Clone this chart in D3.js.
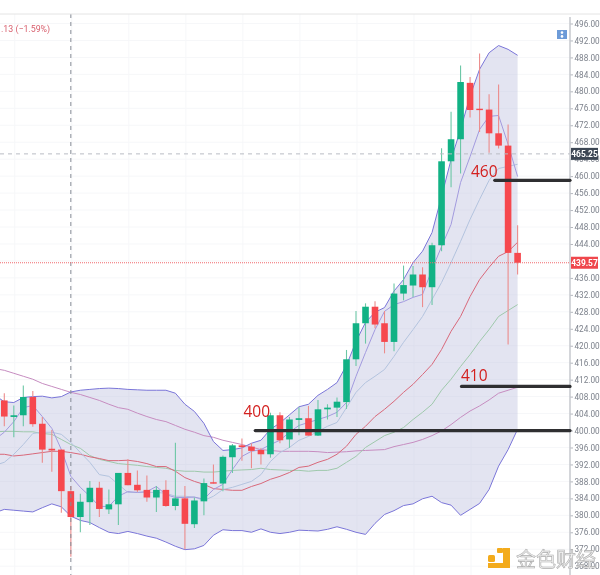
<!DOCTYPE html>
<html>
<head>
<meta charset="utf-8">
<script src="https://cdn.jsdelivr.net/npm/d3@7"></script>
<style>
  html, body { margin: 0; padding: 0; background: #fff; overflow: hidden; }
  svg { display: block; filter: blur(0.35px); }
</style>
</head>
<body>
<div id="chart"></div>
<script>
// candles, one per session, oldest first
const opens = [407.1,403.2,403.6,407.9,401.6,395.7,395.5,385.7,379.6,383.1,386.5,381.4,382.6,390.0,387.2,386.0,384.2,386.0,382.2,384.0,377.9,383.3,387.8,387.5,393.7,396.5,396.2,395.4,394.4,403.6,397.9,402.5,402.9,398.8,405.0,405.4,406.7,416.8,425.3,429.2,425.3,420.9,432.3,434.2,436.8,433.8,443.7,463.5,468.7,482.0,475.9,475.7,470.1,467.2,441.9];
const closes = [403.3,403.6,407.9,401.5,395.5,395.3,385.7,379.6,383.2,386.5,381.5,382.6,390.0,387.1,385.9,384.2,386.0,382.2,384.0,378.0,383.5,387.6,387.5,393.8,396.5,396.1,395.2,394.4,403.6,397.7,402.6,402.9,398.8,405.0,405.4,406.8,416.8,425.3,429.2,425.0,420.9,432.3,434.3,436.8,433.8,443.7,463.5,468.7,482.2,475.6,475.6,470.1,467.2,441.9,439.57];
const highs = [408.8,405.9,410.6,409.3,403.2,400.1,395.5,386.9,385.1,388.1,387.9,386.1,390.0,393.2,390.6,389.4,386.9,388.3,397.1,386.9,384.2,388.7,392.0,394.1,396.8,398.1,397.0,395.9,404.2,404.3,403.2,405.5,405.8,407.2,406.2,407.8,419.0,428.2,430.0,430.5,428.2,434.7,438.9,438.8,438.5,444.3,466.6,475.2,486.1,483.4,488.9,479.3,481.6,472.2,448.4];
const lows = [401.0,398.4,401.0,400.9,392.4,390.3,380.6,370.2,376.0,377.7,379.6,380.3,377.7,387.1,385.5,383.2,380.8,382.0,381.2,372.0,377.0,380.0,387.5,385.7,390.0,392.9,391.1,392.0,393.6,397.0,395.9,398.9,398.8,398.7,402.6,403.2,405.1,415.2,420.5,424.1,418.2,418.7,430.7,431.5,429.1,429.6,442.3,457.4,460.6,473.8,470.4,465.5,466.5,420.3,436.8];

// overlay lines start one session before the first visible candle
const bandUpper = [408.3,406.8,406.6,407.8,408.0,408.1,407.7,408.0,409.1,409.5,409.7,409.9,410.0,409.9,409.7,409.6,409.5,409.5,409.5,408.8,406.2,404.5,401.7,397.4,395.3,395.5,395.9,397.0,397.7,400.3,401.8,403.7,405.6,406.2,408.3,409.7,411.3,415.4,421.0,425.5,427.9,429.0,432.9,435.6,439.6,442.3,446.7,455.2,463.9,471.0,478.9,485.2,489.1,490.8,489.9,488.5];
const bandLower = [380.6,381.4,381.2,381.0,380.8,381.8,382.7,382.0,379.8,378.8,378.3,377.1,376.0,375.7,376.2,375.7,375.1,374.6,373.7,372.7,371.9,372.1,372.9,375.3,376.6,376.4,376.4,376.0,376.8,376.0,375.7,376.0,376.5,376.4,376.3,376.7,377.3,376.7,376.0,375.5,378.1,380.2,381.1,382.3,382.7,383.9,384.5,383.0,382.4,380.0,381.4,382.8,386.1,391.6,395.5,400.3];
const ma5 = [397.9,399.6,402.1,405.4,405.9,403.3,400.5,395.5,389.2,386.6,384.5,382.1,382.1,384.5,385.6,385.4,385.6,386.8,384.9,384.2,384.2,384.3,383.8,386.1,387.3,390.8,393.9,395.1,395.5,396.7,397.7,399.6,401.2,401.9,402.6,403.3,404.3,406.6,412.8,418.4,423.8,428.1,429.7,430.4,431.4,432.1,438.0,443.4,448.6,458.5,464.6,471.0,474.1,474.3,467.5,459.9];
const ma10 = [391.8,392.5,394.4,396.7,399.3,399.6,399.6,399.1,397.2,394.8,392.5,389.6,389.2,387.3,385.4,385.4,385.4,385.4,385.2,384.5,384.5,384.3,383.5,384.5,386.1,386.6,387.3,388.0,389.6,392.7,394.8,396.0,397.7,398.6,399.8,401.0,401.9,405.4,409.0,411.3,412.8,414.4,417.5,420.8,423.8,426.9,430.9,434.9,439.6,444.6,449.8,454.5,459.0,461.8,462.3,462.8];
const ma20 = [394.4,394.4,394.0,394.2,394.5,394.8,395.1,395.1,394.8,394.4,393.8,393.4,392.9,392.9,393.0,392.7,392.2,391.5,391.5,390.4,388.9,388.0,387.3,386.3,386.1,385.9,385.9,386.8,387.5,388.5,389.2,390.1,391.3,391.6,392.5,393.2,394.4,396.3,399.1,401.0,403.3,405.0,406.9,409.0,410.9,413.2,415.6,419.1,423.4,426.9,431.6,435.6,438.5,441.1,442.2,444.4];
const ma30 = [399.7,399.8,399.8,399.7,399.7,399.3,399.1,397.9,396.7,395.8,394.1,393.2,392.7,392.2,392.0,391.8,391.5,391.3,391.1,390.6,390.4,390.4,390.2,390.2,390.4,390.6,390.7,390.8,391.1,390.8,390.7,390.6,390.6,390.4,390.6,390.6,391.1,392.5,393.9,396.0,397.4,398.8,399.6,400.7,402.6,404.3,406.2,409.5,412.1,415.1,417.9,421.0,423.8,426.9,428.3,429.7];
const ma60 = [414.6,414.2,413.5,412.8,412.1,411.1,410.4,409.7,409.0,408.5,407.8,407.1,406.2,405.4,405.0,404.1,403.3,402.6,402.1,401.2,400.3,399.6,398.8,398.4,397.7,397.2,396.7,396.1,395.5,395.3,395.1,395.1,395.1,395.1,395.0,394.8,394.9,395.0,395.2,395.3,395.4,395.5,396.2,396.7,397.2,397.9,398.8,399.9,401.4,403.1,404.6,405.8,407.2,408.8,409.5,410.2];

const priceTicks = d3.range(368, 497, 4);
const crossPrice = 465.25;
const lastPrice = 439.57;
// hand drawn levels: price, first session they start from
const levels = [400, 410.4, 459];
const levelStarts = [26.4, 48.1, 51.6];
const notes = ['400', '410', '460'];
const headerText = '.13 (\u22121.59%)';
const watermark = '金色财经';

const width = 600;
const height = 575;
const plotRight = 570;

const svg = d3.select('#chart').append('svg')
  .attr('width', width)
  .attr('height', height)
  .style('font-family', 'Roboto, sans-serif');

const x = d3.scaleLinear().domain([0, 54]).range([4.3, 517.6]);
const y = d3.scaleLinear().domain([368, 496]).range([566.2, 23.5]);

const lineX = (d, i) => x(i - 1);

// grid
svg.append('g').selectAll('line')
  .data(priceTicks)
  .enter().append('line')
  .attr('x1', 0).attr('x2', plotRight)
  .attr('y1', d => y(d)).attr('y2', d => y(d))
  .attr('stroke', '#f6f7f9');

svg.append('g').selectAll('line')
  .data(d3.range(1.1, 55, 6))
  .enter().append('line')
  .attr('x1', d => x(d)).attr('x2', d => x(d))
  .attr('y1', 14).attr('y2', height)
  .attr('stroke', '#f6f7f9');

// bollinger fill
const area = d3.area()
  .x(lineX)
  .y0((d, i) => y(bandLower[i]))
  .y1(d => y(d));

svg.append('path')
  .datum(bandUpper)
  .attr('d', area)
  .attr('fill', '#b9bbdc')
  .attr('fill-opacity', 0.4);

// overlay lines
const line = d3.line().x(lineX).y(d => y(d));
const overlays = [
  { values: ma60, color: '#c68cc0' },
  { values: ma30, color: '#9ec8ab' },
  { values: ma20, color: '#d8687a' },
  { values: ma10, color: '#b3c3de' },
  { values: ma5, color: '#a29ade' },
  { values: bandUpper, color: '#7a75d8' },
  { values: bandLower, color: '#7a75d8' }
];

svg.append('g').selectAll('path')
  .data(overlays)
  .enter().append('path')
  .attr('d', d => line(d.values))
  .attr('fill', 'none')
  .attr('stroke', d => d.color)
  .attr('stroke-width', 1);

// candles
const up = i => closes[i] >= opens[i];
const candles = svg.append('g').selectAll('g')
  .data(d3.range(opens.length))
  .enter().append('g');

candles.append('line')
  .attr('x1', i => x(i)).attr('x2', i => x(i))
  .attr('y1', i => y(highs[i])).attr('y2', i => y(lows[i]))
  .attr('stroke', i => up(i) ? '#6cc7a6' : '#ec8c8c')
  .attr('stroke-width', 1.1);

candles.append('rect')
  .attr('x', i => x(i) - 3.3)
  .attr('width', 6.6)
  .attr('y', i => y(Math.max(opens[i], closes[i])))
  .attr('height', i => Math.max(1.4, Math.abs(y(opens[i]) - y(closes[i]))))
  .attr('fill', i => up(i) ? '#12b285' : '#f6484e');

// crosshair and last price
svg.append('line')
  .attr('x1', x(7)).attr('x2', x(7))
  .attr('y1', 14).attr('y2', height)
  .attr('stroke', '#858b96')
  .attr('stroke-dasharray', '4,4');

svg.append('line')
  .attr('x1', 0).attr('x2', plotRight)
  .attr('y1', y(crossPrice)).attr('y2', y(crossPrice))
  .attr('stroke', '#b9bcc4')
  .attr('stroke-dasharray', '4,4');

svg.append('line')
  .attr('x1', 0).attr('x2', plotRight)
  .attr('y1', y(lastPrice)).attr('y2', y(lastPrice))
  .attr('stroke', '#f0686c')
  .attr('stroke-dasharray', '1,1');

// top border and header
svg.append('line')
  .attr('x1', 0).attr('x2', width)
  .attr('y1', 14).attr('y2', 14)
  .attr('stroke', '#e4e4e4');

svg.append('text')
  .attr('x', 1).attr('y', 32)
  .attr('font-size', 8.8)
  .attr('fill', '#d8606e')
  .text(headerText);

// layout button
const button = svg.append('g').attr('transform', 'translate(557,30)');
button.append('rect').attr('width', 10).attr('height', 9).attr('fill', '#6d9bd8');
button.selectAll('circle')
  .data([2.6, 6.4])
  .enter().append('circle')
  .attr('cx', 5).attr('cy', d => d).attr('r', 1.3)
  .attr('fill', '#fff');

// price axis, the 440 label sits fully under the last price tag
const axis = d3.axisRight(y)
  .tickValues(priceTicks.filter(d => d !== 440))
  .tickSize(3)
  .tickPadding(1.5)
  .tickFormat(d3.format('.2f'));

const axisG = svg.append('g')
  .attr('transform', `translate(${plotRight},0)`)
  .call(axis);
axisG.select('.domain').remove();
axisG.selectAll('line').attr('stroke', '#b5b8bf');
axisG.selectAll('text')
  .attr('font-size', 8.2)
  .attr('font-family', 'Roboto, sans-serif')
  .attr('fill', '#7d828c');

svg.append('line')
  .attr('x1', plotRight).attr('x2', plotRight)
  .attr('y1', 17).attr('y2', height)
  .attr('stroke', '#c6c8ce')
  .attr('stroke-width', 1.5);

// price tags on the axis
[[crossPrice, '#3c4654'], [lastPrice, '#ef474c']].forEach(([price, color]) => {
  svg.append('rect')
    .attr('x', plotRight + 1).attr('y', y(price) - 6)
    .attr('width', 27).attr('height', 12)
    .attr('fill', color);
  svg.append('text')
    .attr('x', plotRight + 14.5).attr('y', y(price) + 3)
    .attr('text-anchor', 'middle')
    .attr('font-size', 8.4)
    .attr('font-weight', 'bold')
    .attr('fill', '#fff')
    .text(price.toFixed(2));
});

// hand drawn levels and notes
svg.append('g').selectAll('line')
  .data(levels)
  .enter().append('line')
  .attr('x1', (d, i) => x(levelStarts[i])).attr('x2', plotRight)
  .attr('y1', d => y(d)).attr('y2', d => y(d))
  .attr('stroke', '#2f2f31')
  .attr('stroke-width', 3.2)
  .attr('stroke-linecap', 'round');

svg.append('g').selectAll('text')
  .data(notes)
  .enter().append('text')
  .attr('x', (d, i) => [243.5, 461, 471][i])
  .attr('y', (d, i) => [416.5, 380.5, 176.5][i])
  .attr('font-size', 15.5)
  .attr('font-family', '"Open Sans", sans-serif')
  .attr('fill', '#d3201f')
  .text(d => d);

// watermark
const logo = svg.append('g').attr('fill', '#f3ab1c');
logo.append('rect').attr('x', 497).attr('y', 548).attr('width', 6).attr('height', 5).attr('rx', 1);
logo.append('rect').attr('x', 488).attr('y', 555).attr('width', 7).attr('height', 7).attr('rx', 1.5);
logo.append('rect').attr('x', 503).attr('y', 548).attr('width', 7).attr('height', 20);
logo.append('rect').attr('x', 488).attr('y', 563).attr('width', 22).attr('height', 5);

svg.append('text')
  .attr('x', 516).attr('y', 567)
  .attr('font-size', 20)
  .attr('font-family', '"Noto Sans CJK SC", sans-serif')
  .attr('fill', '#f0f0f0')
  .attr('stroke', '#adadad')
  .attr('stroke-width', 0.6)
  .text(watermark);
</script>
</body>
</html>
